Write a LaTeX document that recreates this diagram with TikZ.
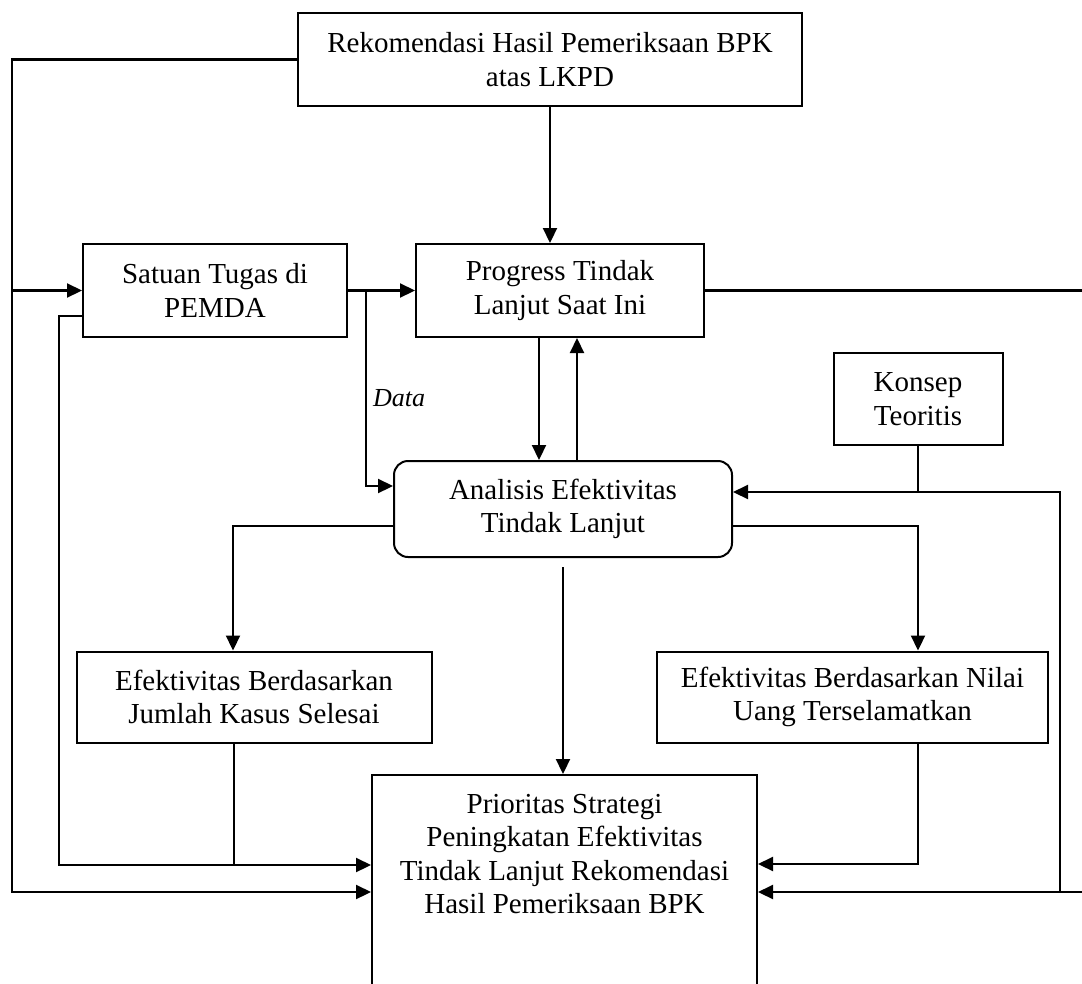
\documentclass[tikz,border=0pt]{standalone}
\usepackage{fontspec}
\setmainfont{Liberation Serif}
\usetikzlibrary{arrows.meta,calc}
\begin{document}
\begin{tikzpicture}[x=1pt,y=-1pt,
 box/.style={draw,line width=2pt,inner sep=0pt,align=center,font=\fontsize{29}{33.5}\selectfont},
 conn/.style={line width=2.2pt},
 thin/.style={line width=1.8pt},
 arr/.style={conn,-{Triangle[length=15pt,width=14pt]}},
]
\useasboundingbox (0,0) rectangle (1082,983);
\node[box,minimum width=504,minimum height=93] (rek) at (550,59.5) {Rekomendasi Hasil Pemeriksaan BPK\\atas LKPD};
\node[box,minimum width=264,minimum height=93] (sat) at (215,290.5) {Satuan Tugas di\\PEMDA};
\node[box,minimum width=288,minimum height=93] (prog) at (560,290.5) {Progress Tindak\\Lanjut Saat Ini};
\node[box,minimum width=169,minimum height=92] (kon) at (918,399) {Konsep\\Teoritis};
\node[box,rounded corners=14pt,minimum width=338,minimum height=96] (ana) at (563,509) {Analisis Efektivitas\\Tindak Lanjut};
\node[box,minimum width=355,minimum height=91] (ef1) at (254,697) {Efektivitas Berdasarkan\\Jumlah Kasus Selesai};
\node[box,minimum width=391,minimum height=91] (ef2) at (852.5,697) {Efektivitas Berdasarkan Nilai\\Uang Terselamatkan};
\node[box,anchor=north,minimum width=385,minimum height=240] (pri) at (564.5,774) {};
\node[box,draw=none,anchor=north] (pritext) at (564.5,793) {Prioritas Strategi\\Peningkatan Efektivitas\\Tindak Lanjut Rekomendasi\\Hasil Pemeriksaan BPK};
\node[inner sep=0pt,font=\fontsize{26}{30}\itshape] (data) at (399,398) {Data};

% coordinates
\coordinate (tl) at (12,59.5);
\coordinate (bl) at (12,892);
\coordinate (sl) at (59,316);
\coordinate (sb) at (59,865);
\coordinate (e1b) at (234,865);
\coordinate (dv) at (366,486);
\coordinate (xd) at (539,0);
\coordinate (xu) at (577,0);
\coordinate (re) at (1082,291);
\coordinate (a1) at (233,526);
\coordinate (a2) at (918,526);
\coordinate (kj) at (918,492);
\coordinate (rt) at (1060,492);
\coordinate (rb) at (1060,892);
\coordinate (rr) at (1082,892);
\coordinate (e2b) at (918,864);

% left side
\draw[arr] (rek.west) -- (tl) -- (bl) -- (bl -| pri.west);
\draw[arr] (tl |- sat.west) -- (sat.west);
\draw[arr] (sat.west |- sl) -- (sl) -- (sb) -- (sb -| pri.west);
\draw[thin] (e1b |- ef1.south) -- (e1b);

% top
\draw[arr] (rek.south) -- (rek.south |- prog.north);
\draw[arr] (sat.east) -- (prog.west);
\draw[arr] (dv |- sat.east) -- (dv) -- (dv -| ana.west);
\draw[arr] (prog.south -| xd) -- (ana.north -| xd);
\draw[arr] (ana.north -| xu) -- (prog.south -| xu);
\draw[conn] (prog.east) -- (re |- prog.east);

% analysis outputs
\draw[arr] (ana.west |- a1) -- (a1) -- (a1 |- ef1.north);
\draw[arr] (ana.east |- a2) -- (a2) -- (a2 |- ef2.north);
\draw[arr] ($(ana.south)+(0,9)$) -- (ana.south |- pri.north);

% right side
\draw[thin] (kon.south) -- (kon.south |- kj);
\draw[arr] (rb) -- (rt) -- (rt -| ana.east);
\draw[arr] (rr) -- (rr -| pri.east);
\draw[arr] (e2b |- ef2.south) -- (e2b) -- (e2b -| pri.east);
\end{tikzpicture}
\end{document}
